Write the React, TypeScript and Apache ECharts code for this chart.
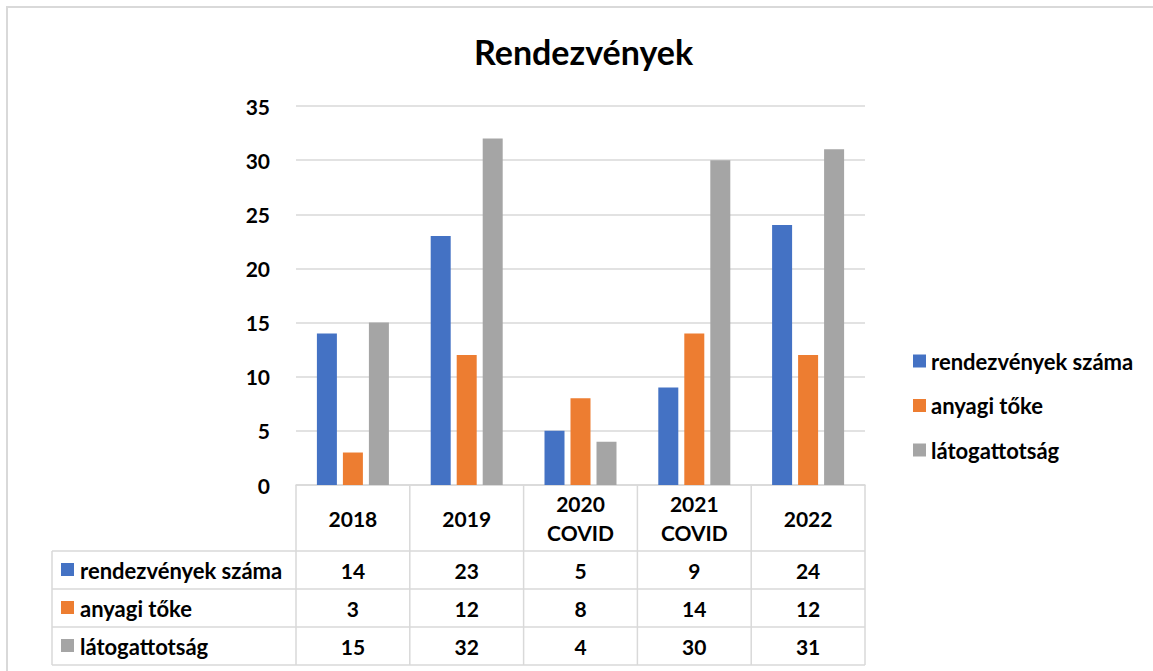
import React, { useEffect, useRef } from "react";
import * as echarts from "echarts";

const categories = ["2018", "2019", "2020\nCOVID", "2021\nCOVID", "2022"];
const seriesNames = ["rendezvények száma", "anyagi tőke", "látogattotság"];
const rendezvenyek = [14, 23, 5, 9, 24];
const anyagiToke = [3, 12, 8, 14, 12];
const latogatottsag = [15, 32, 4, 30, 31];
const colors = ["#4472C4", "#ED7D31", "#A5A5A5"];

const W = 1153;
const H = 671;
const PL = 296;
const PR = 865;
const PT = 106;
const PB = 485;
const FONT = "Lato, 'Open Sans', sans-serif";

export default function App() {
  const ref = useRef<HTMLDivElement>(null);
  useEffect(() => {
    document.body.style.margin = "0";
    const chart = echarts.init(ref.current!, undefined, { renderer: "svg" });
    const seriesData = [rendezvenyek, anyagiToke, latogatottsag];
    const gridColor = "#d9d9d9";
    const catW = (PR - PL) / categories.length;
    const headerBottom = 551;
    const rowH = 38;
    const tableLeft = 52;
    const tableBottom = headerBottom + rowH * 3;

    const graphics: any[] = [];
    graphics.push({ type: "line", shape: { x1: 6, y1: 7, x2: W, y2: 7 }, style: { stroke: gridColor, lineWidth: 2 } });
    graphics.push({ type: "line", shape: { x1: 7, y1: 7, x2: 7, y2: H }, style: { stroke: gridColor, lineWidth: 2 } });
    for (let i = 0; i <= categories.length; i++) {
      const x = PL + i * catW;
      graphics.push({ type: "line", shape: { x1: x, y1: PB, x2: x, y2: tableBottom }, style: { stroke: gridColor, lineWidth: 1.5 } });
    }
    graphics.push({ type: "line", shape: { x1: tableLeft, y1: headerBottom, x2: tableLeft, y2: tableBottom }, style: { stroke: gridColor, lineWidth: 1.5 } });
    for (let r = 0; r <= 3; r++) {
      const y = headerBottom + r * rowH;
      graphics.push({ type: "line", shape: { x1: tableLeft, y1: y, x2: PR, y2: y }, style: { stroke: gridColor, lineWidth: 1.5 } });
    }
    categories.forEach((c, i) => {
      graphics.push({
        type: "text",
        x: PL + (i + 0.5) * catW,
        y: (PB + headerBottom) / 2,
        style: { text: c, fill: "#000", font: `bold 21px ${FONT}`, align: "center", verticalAlign: "middle", lineHeight: 29 },
      });
    });
    seriesNames.forEach((name, r) => {
      const yc = headerBottom + (r + 0.5) * rowH;
      graphics.push({ type: "rect", shape: { x: 61, y: yc - 7, width: 13, height: 13 }, style: { fill: colors[r] } });
      graphics.push({
        type: "text",
        x: 80,
        y: yc,
        style: { text: name, fill: "#000", font: `bold 22px ${FONT}`, align: "left", verticalAlign: "middle" },
      });
      seriesData[r].forEach((v, i) => {
        graphics.push({
          type: "text",
          x: PL + (i + 0.5) * catW,
          y: yc,
          style: { text: String(v), fill: "#000", font: `bold 21px ${FONT}`, align: "center", verticalAlign: "middle" },
        });
      });
    });

    chart.setOption({
      animation: false,
      backgroundColor: "#fff",
      title: {
        text: "Rendezvények",
        left: 469,
        top: 29,
        textStyle: { fontFamily: FONT, fontWeight: "bold", fontSize: 34, color: "#000" },
      },
      legend: {
        orient: "vertical",
        left: 908,
        top: 345,
        itemWidth: 13,
        itemHeight: 13,
        itemGap: 22.5,
        icon: "rect",
        textStyle: { fontFamily: FONT, fontWeight: "bold", fontSize: 22, color: "#000" },
        data: seriesNames,
      },
      grid: { left: PL, right: W - PR, top: PT, bottom: H - PB, containLabel: false },
      xAxis: {
        type: "category",
        data: categories,
        axisLine: { lineStyle: { color: gridColor, width: 1.5 } },
        axisTick: { show: false },
        axisLabel: { show: false },
      },
      yAxis: {
        type: "value",
        min: 0,
        max: 35,
        interval: 5,
        axisLine: { show: false },
        axisTick: { show: false },
        axisLabel: { margin: 26, fontFamily: FONT, fontWeight: "bold", fontSize: 21, color: "#000" },
        splitLine: { lineStyle: { color: gridColor, width: 1.5 } },
      },
      graphic: graphics,
      series: seriesNames.map((n, k) => ({
        name: n,
        type: "bar",
        data: seriesData[k],
        barWidth: 20,
        barGap: "30%",
        itemStyle: { color: colors[k] },
      })),
    });
    return () => chart.dispose();
  }, []);
  return <div ref={ref} style={{ width: W, height: H }} />;
}
